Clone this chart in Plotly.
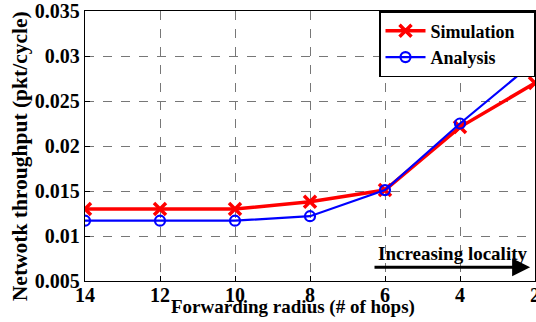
import plotly.graph_objects as go

radius = [14, 12, 10, 8, 6, 4, 2]
simulation = [0.0130, 0.0130, 0.0130, 0.0138, 0.0151, 0.0221, 0.0270]
analysis = [0.0117, 0.0117, 0.0117, 0.0122, 0.0151, 0.0225, 0.0294]
x_ticks = [14, 12, 10, 8, 6, 4, 2]
y_ticks = [0.005, 0.01, 0.015, 0.02, 0.025, 0.03, 0.035]
y_tick_text = ["0.005", "0.01", "0.015", "0.02", "0.025", "0.03", "0.035"]

FONT = "Liberation Serif"
PAD = "\u00a0" * 3

fig = go.Figure()
fig.add_trace(go.Scatter(
    x=radius, y=simulation, name="<b>Simulation</b>" + PAD, mode="lines+markers",
    line=dict(color="#ff0000", width=3.5),
    marker=dict(symbol="x-thin", size=12, line=dict(color="#ff0000", width=3.5)),
))
fig.add_trace(go.Scatter(
    x=radius, y=analysis, name="<b>Analysis</b>", mode="lines+markers",
    line=dict(color="#0000ff", width=2.2),
    marker=dict(symbol="circle-open", size=10, color="#0000ff", line=dict(width=2.2)),
))

axis_common = dict(
    showline=True, linecolor="black", linewidth=1.3, mirror=True,
    ticks="inside", ticklen=5, tickcolor="black", tickwidth=1,
    showgrid=True, gridcolor="#777777", griddash="dash", gridwidth=1,
    zeroline=False, automargin=False, ticklabeloverflow="allow",
    tickfont=dict(family=FONT, size=20, color="black"),
)

fig.update_xaxes(range=[14, 2], tickvals=x_ticks, ticktext=["<b>%d</b>" % v for v in x_ticks],
                 ticklabelstandoff=-4, **axis_common)
fig.update_yaxes(range=[0.005, 0.035], tickvals=y_ticks, ticktext=["<b>%s</b>" % t for t in y_tick_text],
                 ticklabelstandoff=0, **axis_common)

fig.update_layout(
    width=536, height=322,
    margin=dict(l=85, r=1, t=11, b=41),
    paper_bgcolor="white", plot_bgcolor="white",
    font=dict(family=FONT, color="black"),
    showlegend=True,
    legend=dict(
        x=1, y=1, xanchor="right", yanchor="top",
        bgcolor="white", bordercolor="black", borderwidth=1.5,
        font=dict(family=FONT, size=18, color="black"),
        tracegroupgap=0, itemwidth=40,
    ),
    annotations=[
        dict(text="<b>Netwotk throughput (pkt/cycle)</b>", xref="paper", yref="paper",
             x=-0.144, y=0.463, xanchor="center", yanchor="middle", textangle=-90,
             showarrow=False, font=dict(family=FONT, size=21.5, color="black")),
        dict(text="<b>Forwarding radius (# of hops)</b>", xref="paper", yref="paper",
             x=0.462, y=-0.096, xanchor="center", yanchor="middle",
             showarrow=False, font=dict(family=FONT, size=19, color="black")),
        dict(text="<b>Increasing locality</b>", xref="x", yref="y", x=4.19, y=0.00808,
             xanchor="center", yanchor="middle", showarrow=False,
             font=dict(family=FONT, size=19, color="black")),
        dict(text="", xref="x", yref="y", x=2.13, y=0.00652,
             axref="x", ayref="y", ax=6.32, ay=0.00652,
             showarrow=True, arrowhead=2, arrowsize=1.2, arrowwidth=3, arrowcolor="black"),
    ],
)

fig.write_html("out.html", config={"displayModeBar": False},
               post_script="document.body.style.margin='0';")
